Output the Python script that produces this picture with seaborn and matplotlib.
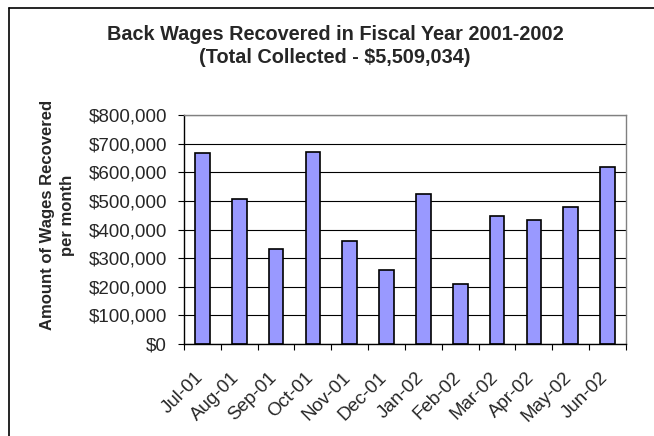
import matplotlib
matplotlib.use("Agg")
import matplotlib.pyplot as plt
import matplotlib.transforms as mtransforms
from matplotlib.ticker import FuncFormatter, MultipleLocator, FixedLocator
from matplotlib.lines import Line2D
import seaborn as sns
import pandas as pd

# Monthly back wages recovered, FY 2001-2002
months = ["Jul-01", "Aug-01", "Sep-01", "Oct-01", "Nov-01", "Dec-01",
          "Jan-02", "Feb-02", "Mar-02", "Apr-02", "May-02", "Jun-02"]
wages = [668000, 505000, 332000, 670000, 359000, 260000,
         525000, 208000, 447000, 433000, 478000, 619000]

title_text = "Back Wages Recovered in Fiscal Year 2001-2002\n(Total Collected - $5,509,034)"
ylabel_text = "Amount of Wages Recovered\nper month"

df = pd.DataFrame({"month": months, "wages": wages})

sns.set_theme(style="white")
plt.rcParams["font.family"] = ["Liberation Sans", "DejaVu Sans"]

fig = plt.figure(figsize=(6.54, 4.36), dpi=100)
ax = fig.add_axes([0.2813, 0.2110, 0.9572 - 0.2813, 0.7362 - 0.2110])

sns.barplot(data=df, x="month", y="wages", ax=ax, color="#9999FF",
            saturation=1, width=0.4, edgecolor="black", linewidth=1.2)

ax.set_xlim(-0.5, len(months) - 0.5)
ax.set_ylim(0, 800000)
ax.yaxis.set_major_locator(MultipleLocator(100000))
ax.yaxis.set_major_formatter(FuncFormatter(lambda v, p: f"${v:,.0f}"))
ax.set_xlabel("")
ax.set_ylabel("")

# horizontal gridlines behind the bars
ax.set_axisbelow(True)
ax.yaxis.grid(True, color="black", linewidth=0.8)
ax.xaxis.grid(False)
fig.canvas.draw()
ax.get_ygridlines()[-1].set_visible(False)

# spines: black axes, gray plot-area border
for side in ("left", "bottom"):
    ax.spines[side].set_color("black")
    ax.spines[side].set_linewidth(1.0)
for side in ("top", "right"):
    ax.spines[side].set_color("#808080")
    ax.spines[side].set_linewidth(1.0)

# y ticks
ax.tick_params(axis="y", which="major", direction="out", length=4.3, width=0.8,
               color="black", pad=8, labelsize=13.5, left=True)

# x: category labels without ticks, tick marks on category boundaries
ax.xaxis.set_minor_locator(FixedLocator([i - 0.5 for i in range(len(months) + 1)]))
ax.tick_params(axis="x", which="minor", direction="out", length=4.3, width=0.8,
               color="black", bottom=True)
ax.tick_params(axis="x", which="major", length=0, pad=18, labelsize=13.5)
offset = mtransforms.ScaledTranslation(-8 / 100, 0, fig.dpi_scale_trans)
for lab in ax.get_xticklabels():
    lab.set_rotation(45)
    lab.set_ha("right")
    lab.set_va("top")
    lab.set_rotation_mode("anchor")
    lab.set_transform(lab.get_transform() + offset)

# title and axis label
fig.text(335 / 654, 1 - 46 / 436, title_text, ha="center", va="center",
         fontsize=14.3, fontweight="bold", linespacing=1.25, multialignment="center")
fig.text(57.5 / 654, 1 - 215 / 436, ylabel_text, ha="center", va="center",
         rotation=90, fontsize=12, fontweight="bold", linespacing=1.38,
         multialignment="center")

# chart-area frame (left and top edges)
fig.add_artist(Line2D([9 / 654, 9 / 654], [0, 1 - 8 / 436], transform=fig.transFigure,
                      color="black", linewidth=1.2))
fig.add_artist(Line2D([9 / 654, 1], [1 - 8 / 436, 1 - 8 / 436], transform=fig.transFigure,
                      color="black", linewidth=1.2))

fig.savefig("out.png", dpi=100, facecolor="white")
